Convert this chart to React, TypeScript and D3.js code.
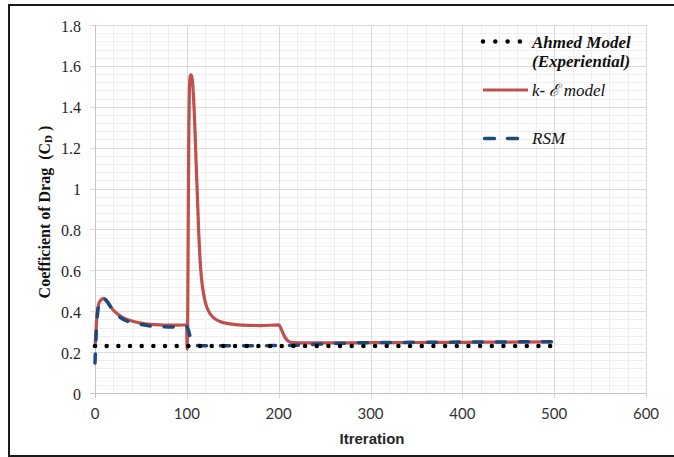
import React, { useEffect, useRef } from 'react';
import * as d3 from 'd3';

// Ahmed experimental value (constant)
const ahmedIter = [0, 500];
const ahmedCd = [0.23, 0.23];

// k-epsilon model
const kEpsIter = [0, 1, 2, 3, 4, 6, 8, 9.5, 11, 13, 16, 20, 25, 30, 40, 50, 60, 70, 80, 90, 99.8, 100.3, 101, 101.6, 102.2, 102.8, 103.5, 104.3, 105.2, 106.2, 107, 108, 109, 110, 111, 112, 113, 114.4, 116, 118, 121, 125, 130, 136, 147, 160, 180, 200, 201.5, 203, 205, 207, 209, 212, 216, 230, 260, 300, 350, 400, 450, 497];
const kEpsCd = [0.22, 0.3, 0.37, 0.41, 0.435, 0.452, 0.46, 0.463, 0.46, 0.45, 0.43, 0.405, 0.385, 0.37, 0.352, 0.342, 0.336, 0.333, 0.332, 0.332, 0.333, 0.215, 0.4, 0.9, 1.3, 1.48, 1.545, 1.556, 1.55, 1.52, 1.47, 1.385, 1.27, 1.14, 1.02, 0.9, 0.78, 0.65, 0.56, 0.49, 0.43, 0.39, 0.365, 0.35, 0.338, 0.332, 0.33, 0.333, 0.325, 0.31, 0.29, 0.272, 0.26, 0.25, 0.246, 0.245, 0.245, 0.246, 0.247, 0.248, 0.249, 0.25];

// RSM model
const rsmIter = [0, 1, 2, 3, 4, 6, 8, 9.5, 11, 13, 16, 20, 25, 30, 40, 50, 60, 70, 80, 90, 100, 101.5, 103, 104.5, 106, 108, 112, 120, 160, 200, 220, 240, 260, 280, 320, 400, 497];
const rsmCd = [0.147, 0.26, 0.35, 0.4, 0.43, 0.452, 0.462, 0.463, 0.458, 0.448, 0.428, 0.4, 0.378, 0.362, 0.345, 0.335, 0.328, 0.325, 0.323, 0.323, 0.325, 0.31, 0.285, 0.26, 0.245, 0.236, 0.232, 0.231, 0.231, 0.232, 0.234, 0.238, 0.242, 0.245, 0.247, 0.249, 0.251];

const xTicks = [0, 100, 200, 300, 400, 500, 600];
const yTicks = [0, 0.2, 0.4, 0.6, 0.8, 1, 1.2, 1.4, 1.6, 1.8];
const yTickLabels = ['0', '0.2', '0.4', '0.6', '0.8', '1', '1.2', '1.4', '1.6', '1.8'];

const SERIF = "'Liberation Serif', 'Times New Roman', Times, 'DejaVu Serif', serif";

function App() {
  const svgRef = useRef<SVGSVGElement>(null);

  useEffect(() => {
    const svg = d3.select(svgRef.current);
    svg.selectAll('*').remove();

    const x = d3.scaleLinear().domain([0, 600]).range([95, 646]);
    const y = d3.scaleLinear().domain([0, 1.8]).range([393, 25]);
    const px = (v: number) => Math.round(x(v)) + 0.5;
    const py = (v: number) => Math.round(y(v)) + 0.5;

    svg.append('rect').attr('width', 674).attr('height', 457).attr('fill', 'white');

    // minor grid
    const minorX = d3.range(0, 31).map(i => i * 20).filter(v => v % 100 !== 0);
    const minorY = d3.range(0, 46).filter(i => i % 5 !== 0).map(i => i * 0.04);
    svg.append('g').selectAll('line').data(minorX).enter().append('line')
      .attr('x1', d => px(d)).attr('x2', d => px(d)).attr('y1', y(1.8)).attr('y2', y(0))
      .attr('stroke', '#efefef');
    svg.append('g').selectAll('line').data(minorY).enter().append('line')
      .attr('x1', x(0)).attr('x2', x(600)).attr('y1', d => py(d)).attr('y2', d => py(d))
      .attr('stroke', '#efefef');

    // major grid + tick marks
    svg.append('g').selectAll('line').data(xTicks).enter().append('line')
      .attr('x1', d => px(d)).attr('x2', d => px(d)).attr('y1', y(1.8)).attr('y2', y(0) + 5)
      .attr('stroke', '#d9d9d9');
    svg.append('g').selectAll('line').data(yTicks).enter().append('line')
      .attr('x1', x(0) - 5).attr('x2', x(600)).attr('y1', d => py(d)).attr('y2', d => py(d))
      .attr('stroke', '#d9d9d9');

    // axes
    svg.append('line').attr('x1', px(0)).attr('x2', px(0)).attr('y1', y(1.8)).attr('y2', y(0) + 5)
      .attr('stroke', '#c4c4c4');
    svg.append('line').attr('x1', x(0) - 5).attr('x2', x(600)).attr('y1', py(0)).attr('y2', py(0))
      .attr('stroke', '#c4c4c4');

    // tick labels
    svg.append('g').selectAll('text').data(yTicks).enter().append('text')
      .attr('x', 81).attr('y', d => y(d) + 1)
      .attr('text-anchor', 'end').attr('dominant-baseline', 'central')
      .style('font-family', SERIF).attr('font-size', 16).attr('fill', '#262626')
      .text((d, i) => yTickLabels[i]);
    svg.append('g').selectAll('text').data(xTicks).enter().append('text')
      .attr('x', d => x(d)).attr('y', 413)
      .attr('text-anchor', 'middle').attr('dominant-baseline', 'central')
      .style('font-family', 'Lato, sans-serif').attr('font-size', 15).attr('fill', '#333')
      .text(d => d);

    // axis titles
    svg.append('text').attr('x', 372).attr('y', 438)
      .attr('text-anchor', 'middle').attr('dominant-baseline', 'central')
      .style('font-family', "'Liberation Sans', Arial, sans-serif").attr('font-weight', 'bold')
      .attr('font-size', 15).attr('fill', '#262626')
      .text('Itreration');
    const yt = svg.append('text')
      .attr('transform', 'translate(44,212) rotate(-90)')
      .attr('text-anchor', 'middle').attr('dominant-baseline', 'central')
      .style('font-family', SERIF).attr('font-weight', 'bold')
      .attr('font-size', 16).attr('fill', '#111').style('white-space', 'pre');
    yt.append('tspan').text('Coefficient of Drag  (C');
    yt.append('tspan').attr('font-size', 11).attr('dy', 4).text('D');
    yt.append('tspan').attr('dy', -4).text(' )');

    const lineOf = (iter: number[], cd: number[]) =>
      d3.line<number>().x((d, i) => x(iter[i])).y(d => y(d)).curve(d3.curveMonotoneX)(cd);

    // series
    svg.append('path').attr('d', lineOf(kEpsIter, kEpsCd))
      .attr('fill', 'none').attr('stroke', '#c0504d').attr('stroke-width', 3.2);
    svg.append('path').attr('d', lineOf(rsmIter, rsmCd))
      .attr('fill', 'none').attr('stroke', '#1f497d').attr('stroke-width', 3.5)
      .attr('stroke-dasharray', '9,14').attr('stroke-linecap', 'round');
    svg.append('path').attr('d', lineOf(ahmedIter, ahmedCd))
      .attr('fill', 'none').attr('stroke', '#000').attr('stroke-width', 4.5)
      .attr('stroke-dasharray', '0,11.67').attr('stroke-linecap', 'round');

    // legend
    const lg = svg.append('g');
    lg.append('line').attr('x1', 483).attr('x2', 520).attr('y1', 41.5).attr('y2', 41.5)
      .attr('stroke', '#000').attr('stroke-width', 4.5)
      .attr('stroke-dasharray', '0,12.3').attr('stroke-linecap', 'round');
    lg.append('line').attr('x1', 483).attr('x2', 528).attr('y1', 90).attr('y2', 90)
      .attr('stroke', '#c0504d').attr('stroke-width', 3.2);
    lg.append('line').attr('x1', 484.5).attr('x2', 520).attr('y1', 138.5).attr('y2', 138.5)
      .attr('stroke', '#1f497d').attr('stroke-width', 3.5)
      .attr('stroke-dasharray', '10,13').attr('stroke-linecap', 'round');

    const ltext = (yy: number, txt: string, bold: boolean) =>
      lg.append('text').attr('x', 532).attr('y', yy)
        .style('font-family', SERIF).attr('font-style', 'italic')
        .attr('font-weight', bold ? 'bold' : 'normal').attr('font-size', 17).attr('fill', '#111')
        .text(txt);
    ltext(48, 'Ahmed Model', true);
    ltext(67, '(Experiential)', true);
    ltext(96, 'k- \u2130 model', false);
    ltext(144, 'RSM', false);

    // outer frame
    svg.append('rect').attr('x', 9).attr('y', 5).attr('width', 700).attr('height', 451)
      .attr('fill', 'none').attr('stroke', '#1a1a1a').attr('stroke-width', 2);
  }, []);

  return (
    <div style={{ position: 'absolute', left: 0, top: 0 }}>
      <svg ref={svgRef} width={674} height={457}></svg>
    </div>
  );
}

export default App;
